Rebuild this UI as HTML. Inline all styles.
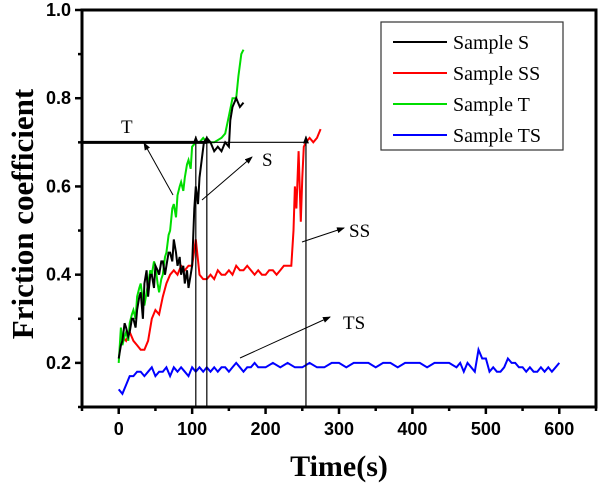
<!DOCTYPE html>
<html><head><meta charset="utf-8"><style>
body{margin:0;background:#fff;}
svg{display:block;font-family:"Liberation Serif",serif;}
</style></head><body>
<svg id="chart" width="600" height="490" xmlns="http://www.w3.org/2000/svg">
<g id="plot"></g>
</svg>
<script>
const xTicks=[0,100,200,300,400,500,600];
const yTicks=[0.2,0.4,0.6,0.8,1.0];
const sT=[0,3,5,8,10,13,15,18,20,23,25,28,30,33,35,38,40,43,45,48,50,53,55,58,60,63,65,68,70,73,75,78,80,83,85,88,90,93,95,98,100,103,105,108,110,113,116,120,125,130,135,140,145,150,152,155,160,165,170];
const sV=[0.21,0.24,0.25,0.29,0.28,0.26,0.27,0.30,0.30,0.28,0.32,0.35,0.36,0.30,0.38,0.41,0.35,0.40,0.40,0.37,0.42,0.41,0.40,0.43,0.43,0.40,0.42,0.45,0.45,0.43,0.48,0.45,0.42,0.44,0.40,0.42,0.38,0.41,0.37,0.40,0.42,0.55,0.60,0.56,0.62,0.66,0.70,0.71,0.70,0.68,0.69,0.68,0.70,0.69,0.75,0.78,0.80,0.78,0.79];
const tT=[0,3,5,8,10,13,15,18,20,23,25,28,30,33,35,38,40,43,45,48,50,53,55,58,60,63,65,68,70,73,75,78,80,83,85,88,90,93,95,98,100,105,110,115,120,130,140,145,150,155,160,163,167,170];
const tV=[0.20,0.28,0.24,0.26,0.27,0.25,0.29,0.31,0.32,0.30,0.35,0.37,0.38,0.34,0.33,0.36,0.38,0.41,0.40,0.43,0.42,0.38,0.36,0.39,0.40,0.44,0.45,0.49,0.50,0.55,0.56,0.53,0.58,0.60,0.61,0.59,0.62,0.65,0.66,0.64,0.69,0.70,0.70,0.71,0.70,0.70,0.71,0.72,0.76,0.80,0.80,0.85,0.90,0.91];
const ssT=[3,5,10,15,20,25,30,35,40,45,50,55,60,65,70,75,80,85,90,95,100,105,110,115,120,125,130,135,140,145,150,155,160,165,170,175,180,185,190,195,200,205,210,215,220,225,230,235,238,240,242,245,248,250,252,255,260,265,270,275];
const ssV=[0.25,0.26,0.25,0.27,0.25,0.24,0.23,0.23,0.25,0.30,0.32,0.31,0.35,0.38,0.40,0.41,0.40,0.42,0.41,0.42,0.42,0.48,0.40,0.39,0.39,0.40,0.39,0.41,0.40,0.40,0.41,0.40,0.42,0.41,0.41,0.42,0.41,0.40,0.41,0.40,0.40,0.41,0.41,0.40,0.41,0.42,0.42,0.42,0.50,0.60,0.55,0.68,0.52,0.62,0.69,0.70,0.71,0.70,0.71,0.73];
const tsT=[0,5,10,15,20,25,30,35,40,45,50,55,60,65,70,75,80,85,90,95,100,105,110,115,120,125,130,135,140,145,150,155,160,165,170,175,180,185,190,195,200,210,220,230,240,250,260,270,280,290,300,310,320,330,340,350,360,370,380,390,400,410,420,430,440,450,460,465,470,475,480,485,490,495,500,505,510,515,520,525,530,535,540,545,550,555,560,565,570,575,580,585,590,595,600];
const tsV=[0.14,0.13,0.15,0.17,0.17,0.18,0.18,0.17,0.18,0.19,0.17,0.18,0.18,0.19,0.17,0.19,0.18,0.19,0.18,0.17,0.19,0.18,0.19,0.18,0.19,0.18,0.19,0.18,0.19,0.19,0.18,0.19,0.20,0.19,0.18,0.19,0.19,0.20,0.19,0.19,0.19,0.20,0.19,0.20,0.19,0.19,0.20,0.19,0.19,0.20,0.20,0.19,0.20,0.20,0.20,0.19,0.20,0.20,0.19,0.20,0.20,0.20,0.19,0.20,0.20,0.20,0.19,0.20,0.18,0.20,0.19,0.18,0.23,0.21,0.21,0.18,0.19,0.18,0.18,0.19,0.21,0.20,0.20,0.19,0.19,0.18,0.19,0.18,0.18,0.19,0.18,0.19,0.18,0.19,0.20];
const L=82,R=596,T=10,B=407,xmin=-50,xmax=650,ymin=0.1,ymax=1.0;
const X=v=>L+(v-xmin)/(xmax-xmin)*(R-L);
const Y=v=>B-(v-ymin)/(ymax-ymin)*(B-T);
const NS="http://www.w3.org/2000/svg";
const svg=document.getElementById('chart');
function mk(tag,attrs,parent){const e=document.createElementNS(NS,tag);for(const k in attrs)e.setAttribute(k,attrs[k]);(parent||svg).appendChild(e);return e;}
const defs=mk('defs',{});
const m=mk('marker',{id:'ar',markerWidth:8,markerHeight:6,refX:7,refY:3,orient:'auto',markerUnits:'userSpaceOnUse'},defs);
mk('path',{d:'M0,0 L8,3 L0,6 Z',fill:'#000'},m);
function series(ts,vs,color,name){
  const p=mk('polyline',{points:ts.map((t,i)=>X(t).toFixed(1)+','+Y(vs[i]).toFixed(1)).join(' '),fill:'none',stroke:color,'stroke-width':2});
  
  
}
series(ssT,ssV,'#ff0000','series-sample-ss');
series(tT,tV,'#00dd00','series-sample-t');
series(sT,sV,'#000','series-sample-s');
series(tsT,tsV,'#0000ff','series-sample-ts');
const ann=mk('g',{});


mk('line',{x1:L,y1:Y(0.7),x2:X(120),y2:Y(0.7),stroke:'#000','stroke-width':3},ann);
mk('line',{x1:X(120),y1:Y(0.7),x2:X(255),y2:Y(0.7),stroke:'#000','stroke-width':1.2},ann);
[105,120,255].forEach(t=>{mk('line',{x1:X(t),y1:B,x2:X(t),y2:Y(0.7)-6,stroke:'#000','stroke-width':1.2,'marker-end':'url(#ar)'},ann);});
mk('line',{x1:173,y1:195,x2:144,y2:143,stroke:'#000','stroke-width':1,'marker-end':'url(#ar)'},ann);
mk('line',{x1:202,y1:200,x2:252,y2:157,stroke:'#000','stroke-width':1,'marker-end':'url(#ar)'},ann);
mk('line',{x1:302,y1:242,x2:344,y2:228,stroke:'#000','stroke-width':1,'marker-end':'url(#ar)'},ann);
mk('line',{x1:240,y1:358,x2:330,y2:317,stroke:'#000','stroke-width':1,'marker-end':'url(#ar)'},ann);
[['T',121,133,'label-t'],['S',262,166,'label-s'],['SS',349,237,'label-ss'],['TS',343,329,'label-ts']].forEach(a=>{
  const t=mk('text',{x:a[1],y:a[2],'font-size':19,fill:'#000'},ann);t.textContent=a[0];
  
  
});
const fr=mk('rect',{x:L,y:T,width:R-L,height:B-T,fill:'none',stroke:'#000','stroke-width':3});


for(let v=-50;v<=650;v+=50){const maj=v%100===0;mk('line',{x1:X(v),y1:B,x2:X(v),y2:B+(maj?7:4),stroke:'#000','stroke-width':2.5});}
for(let k=1;k<=10;k++){const v=k/10;const maj=k%2===0;mk('line',{x1:L,y1:Y(v),x2:L-(maj?7:4),y2:Y(v),stroke:'#000','stroke-width':2.5});}
xTicks.forEach(v=>{const t=mk('text',{x:X(v),y:B+28,'text-anchor':'middle','font-size':18,'font-weight':'bold','font-family':'Liberation Sans, sans-serif'});t.textContent=v;
  
  });
yTicks.forEach(v=>{const t=mk('text',{x:71,y:Y(v)+6,'text-anchor':'end','font-size':18,'font-weight':'bold','font-family':'Liberation Sans, sans-serif'});t.textContent=v.toFixed(1);
  
  });
const xt=mk('text',{x:X(300),y:476,'text-anchor':'middle','font-size':30,'font-weight':'bold'});xt.textContent='Time(s)';


const yt=mk('text',{x:0,y:0,'text-anchor':'middle','font-size':31,'font-weight':'bold',transform:'translate(33,214) rotate(-90)'});yt.textContent='Friction coefficient';


const lg=mk('g',{});


mk('rect',{x:381,y:22,width:182,height:128,fill:'#fff',stroke:'#333','stroke-width':1.2},lg);
[['Sample S','#000'],['Sample SS','#ff0000'],['Sample T','#00dd00'],['Sample TS','#0000ff']].forEach((e,i)=>{
  const y=42+i*31;
  const g=mk('g',{},lg);
  
  
  mk('line',{x1:393,y1:y,x2:447,y2:y,stroke:e[1],'stroke-width':2},g);
  const t=mk('text',{x:453,y:y+7,'font-size':20},g);t.textContent=e[0];
});
</script>
</body></html>
